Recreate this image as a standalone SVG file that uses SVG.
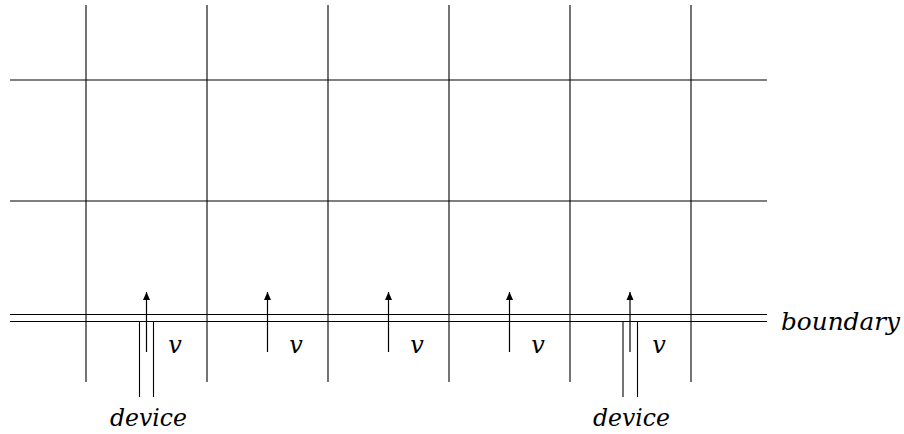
<svg xmlns="http://www.w3.org/2000/svg" width="904" height="434" viewBox="0 0 904 434">
<style>
.g{stroke:#000;stroke-width:1.1;fill:none}
.b{stroke:#000;stroke-width:1.2;fill:none}
.a{stroke:#000;stroke-width:1.2;fill:none}
.d{stroke:#000;stroke-width:1.1;fill:none}
.t{font-family:'DejaVu Serif','Liberation Serif',serif;font-style:italic;font-size:24px;fill:#000}
</style>
<defs>
<marker id="ah" markerWidth="8" markerHeight="10" refX="8" refY="5" orient="auto" markerUnits="userSpaceOnUse">
<path d="M0,1.5 L8,5 L0,8.5 Z" fill="#000"/>
</marker>
</defs>
<g id="grid">
<line class="g" x1="86" y1="5" x2="86" y2="382"/>
<line class="g" x1="207" y1="5" x2="207" y2="382"/>
<line class="g" x1="328" y1="5" x2="328" y2="382"/>
<line class="g" x1="449" y1="5" x2="449" y2="382"/>
<line class="g" x1="570" y1="5" x2="570" y2="382"/>
<line class="g" x1="691" y1="5" x2="691" y2="382"/>
<line class="g" x1="10" y1="80" x2="767" y2="80"/>
<line class="g" x1="10" y1="201" x2="767" y2="201"/>
</g>
<g id="boundary">
<line class="b" x1="10" y1="314.5" x2="767" y2="314.5"/>
<line class="b" x1="10" y1="321.5" x2="767" y2="321.5"/>
<text class="t" x="781" y="330" textLength="119" lengthAdjust="spacingAndGlyphs">boundary</text>
</g>
<g id="device1">
<line class="d" x1="139.5" y1="322" x2="139.5" y2="397"/>
<line class="d" x1="153.5" y1="322" x2="153.5" y2="397"/>
<text class="t" x="110" y="426" textLength="77" lengthAdjust="spacingAndGlyphs">device</text>
</g>
<g id="device2">
<line class="d" x1="623" y1="322" x2="623" y2="397"/>
<line class="d" x1="637.5" y1="322" x2="637.5" y2="397"/>
<text class="t" x="593" y="426" textLength="77" lengthAdjust="spacingAndGlyphs">device</text>
</g>
<g id="connectors">
<line class="a" x1="146.5" y1="352" x2="146.5" y2="292" marker-end="url(#ah)"/>
<line class="a" x1="267.5" y1="352" x2="267.5" y2="292" marker-end="url(#ah)"/>
<line class="a" x1="388.5" y1="352" x2="388.5" y2="292" marker-end="url(#ah)"/>
<line class="a" x1="509.5" y1="352" x2="509.5" y2="292" marker-end="url(#ah)"/>
<line class="a" x1="630" y1="352" x2="630" y2="292" marker-end="url(#ah)"/>
</g>
<g id="labels">
<text class="t" x="175" y="353" text-anchor="middle">v</text>
<text class="t" x="296" y="353" text-anchor="middle">v</text>
<text class="t" x="417" y="353" text-anchor="middle">v</text>
<text class="t" x="538" y="353" text-anchor="middle">v</text>
<text class="t" x="659" y="353" text-anchor="middle">v</text>
</g>
</svg>
